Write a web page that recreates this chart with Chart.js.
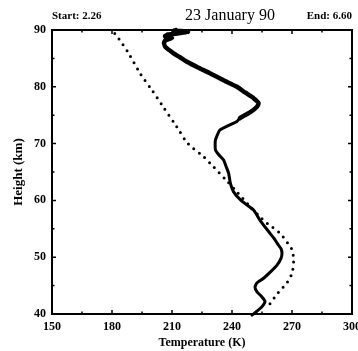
<!DOCTYPE html>
<html lang="en">
<head>
<meta charset="UTF-8" />
<title>23 January 90</title>
<script src="https://cdn.jsdelivr.net/npm/chart.js@4.4.1/dist/chart.umd.min.js"></script>
<style>
  html,body{margin:0;padding:0;background:#fff;overflow:hidden}
  #wrap{position:absolute;left:0;top:0;width:372px;height:351px}
</style>
</head>
<body>
<div id="wrap"><canvas id="chart" width="372" height="351"></canvas></div>
<script>
// measured temperature profile (solid), km / K
const lidarHeight = [39.8,40.5,41.3,42.2,43,43.9,44.7,45.5,46.3,47.5,48.6,49.8,50.7,51.5,52.1,53.3,54.2,56.5,58.3,60,61.5,63,64.8,66,67.1,68,68.9,70.6,72.4,73.9,74.5,75.5,76.5,77.1,78,79,80,81.2,82.4,83.4,84.4,85.2,85.9,87,87.7,88.2,88.6,88.9,89.2,89.5,89.7,89.9,90];
const lidarTemp   = [250,252.5,255,256.5,255,252.5,251.5,252.5,255.8,259.5,262.5,264.5,265,264.5,263.3,261,259,254,250.8,244.5,240.8,239.2,238.3,237,235.8,233.5,231.7,231.7,234,242.5,244,249,252.5,253.3,250.8,246.5,242.5,235.5,229,223,217.5,214,210.8,206.7,206,206.7,210,206.5,208,215,218,211,212];
// model reference profile (dotted)
const modelHeight = [41.8,43.7,45.5,47.2,49.5,51.3,52.4,54.2,56,57.1,59.3,61.5,63.7,65.9,67.7,70,73,76.8,79.4,82.4,85.9,88.5,90];
const modelTemp   = [259,263,267.5,270,270.8,270,268,264,257.5,254,248,242.5,236.7,230.8,225.8,218,212.3,205,200,194,188.3,183.3,180];

const xTicks = [150,180,210,240,270,300];
const yTicks = [40,50,60,70,80,90];
const titleText = '23 January 90';
const startText = 'Start: 2.26';
const endText = 'End: 6.60';

const toPoints = (hs, ts) => hs.map((h, i) => ({x: ts[i], y: h}));
const serif = '"Liberation Serif", "Times New Roman", serif';

// box frame, inward ticks on all four sides, header texts
const framePlugin = {
  id: 'frame',
  afterDraw(chart) {
    const {ctx, chartArea: a, scales: {x, y}} = chart;
    ctx.save();
    ctx.strokeStyle = '#000';
    ctx.lineWidth = 1.5;
    for (let v = 150; v <= 300; v += 15) {
      const px = x.getPixelForValue(v);
      const len = v % 30 === 0 ? 4 : 2.5;
      ctx.beginPath();
      ctx.moveTo(px, a.bottom); ctx.lineTo(px, a.bottom - len);
      ctx.moveTo(px, a.top); ctx.lineTo(px, a.top + len);
      ctx.stroke();
    }
    for (let v = 40; v <= 90; v += 5) {
      const py = y.getPixelForValue(v);
      const len = v % 10 === 0 ? 4 : 2.5;
      ctx.beginPath();
      ctx.moveTo(a.left, py); ctx.lineTo(a.left + len, py);
      ctx.moveTo(a.right, py); ctx.lineTo(a.right - len, py);
      ctx.stroke();
    }
    ctx.lineWidth = 2;
    ctx.strokeRect(a.left, a.top, a.right - a.left, a.bottom - a.top);

    ctx.fillStyle = '#000';
    ctx.textBaseline = 'alphabetic';
    ctx.font = 'bold 11px ' + serif;
    ctx.textAlign = 'left';
    ctx.fillText(startText, a.left, 19);
    ctx.textAlign = 'right';
    ctx.fillText(endText, a.right, 19);
    ctx.font = '16px ' + serif;
    ctx.textAlign = 'center';
    ctx.fillText(titleText, 230, 20);
    ctx.restore();
  }
};

new Chart(document.getElementById('chart'), {
  type: 'line',
  data: {
    datasets: [
      {
        data: toPoints(modelHeight, modelTemp),
        borderColor: '#000',
        borderWidth: 3,
        borderDash: [0, 7],
        borderCapStyle: 'round',
        pointRadius: 0,
        tension: 0.3,
        fill: false
      },
      {
        data: toPoints(lidarHeight, lidarTemp),
        borderColor: '#000',
        borderWidth: 3,
        borderJoinStyle: 'round',
        borderCapStyle: 'round',
        pointRadius: 0,
        tension: 0.15,
        fill: false,
        segment: {
          borderWidth: c => c.p0.parsed.y > 74 ? 4.5 : 3
        }
      }
    ]
  },
  options: {
    responsive: false,
    animation: false,
    clip: false,
    layout: {padding: {top: 30, right: 20, bottom: 0, left: 0}},
    plugins: {legend: {display: false}, tooltip: {enabled: false}},
    scales: {
      x: {
        type: 'linear',
        min: 150, max: 300,
        afterFit: s => { s.height = 37; },
        afterBuildTicks: s => { s.ticks = xTicks.map(v => ({value: v})); },
        grid: {display: false, drawTicks: false},
        border: {display: false},
        ticks: {padding: 6, color: '#000', font: {family: serif, size: 12, weight: 'bold'}, maxRotation: 0},
        title: {display: true, text: 'Temperature (K)', color: '#000', padding: {top: 0, bottom: 1}, font: {family: serif, size: 12, weight: 'bold'}}
      },
      y: {
        min: 40, max: 90,
        afterFit: s => { s.width = 52; },
        afterBuildTicks: s => { s.ticks = yTicks.map(v => ({value: v})); },
        grid: {display: false, drawTicks: false},
        border: {display: false},
        ticks: {padding: 6, color: '#000', font: {family: serif, size: 12, weight: 'bold'}},
        title: {display: true, text: 'Height (km)', color: '#000', padding: {top: 11, bottom: 0}, font: {family: serif, size: 13, weight: 'bold'}}
      }
    }
  },
  plugins: [framePlugin]
});
</script>
</body>
</html>
